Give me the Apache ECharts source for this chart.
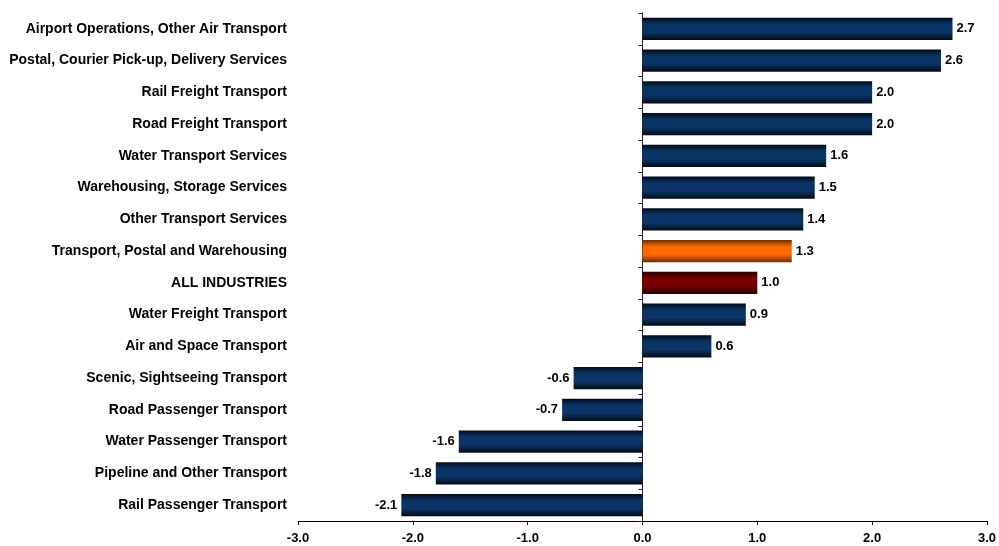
<!DOCTYPE html>
<html>
<head>
<meta charset="utf-8">
<script src="https://cdn.jsdelivr.net/npm/echarts@6/dist/echarts.min.js"></script>
<style>
  html, body { margin: 0; padding: 0; background: #fff; }
  #chart { width: 999px; height: 546px; }
</style>
</head>
<body>
<div id="chart"></div>
<script>
// Industry names, top to bottom
const categories = [
  'Airport Operations, Other Air Transport',
  'Postal, Courier Pick-up, Delivery Services',
  'Rail Freight Transport',
  'Road Freight Transport',
  'Water Transport Services',
  'Warehousing, Storage Services',
  'Other Transport Services',
  'Transport, Postal and Warehousing',
  'ALL INDUSTRIES',
  'Water Freight Transport',
  'Air and Space Transport',
  'Scenic, Sightseeing Transport',
  'Road Passenger Transport',
  'Water Passenger Transport',
  'Pipeline and Other Transport',
  'Rail Passenger Transport'
];
const values = [2.7, 2.6, 2.0, 2.0, 1.6, 1.5, 1.4, 1.3, 1.0, 0.9, 0.6, -0.6, -0.7, -1.6, -1.8, -2.1];
const highlightDivision = 'Transport, Postal and Warehousing';
const highlightAll = 'ALL INDUSTRIES';

const FONT = 'Liberation Sans, Arial, sans-serif';

function bandGradient(edge, mid) {
  return new echarts.graphic.LinearGradient(0, 0, 0, 1, [
    { offset: 0, color: edge },
    { offset: 0.3, color: mid },
    { offset: 0.65, color: mid },
    { offset: 1, color: edge }
  ]);
}

const navy = bandGradient('#020a18', '#0b3566');
const orange = bandGradient('#6e2e00', '#ff6a00');
const maroon = bandGradient('#250000', '#7a0000');

const barData = categories.map((name, i) => {
  let color = navy;
  if (name === highlightDivision) color = orange;
  else if (name === highlightAll) color = maroon;
  return {
    value: values[i],
    itemStyle: { color },
    label: { position: values[i] >= 0 ? 'right' : 'left' }
  };
});

const chart = echarts.init(document.getElementById('chart'), null, { renderer: 'canvas' });
chart.setOption({
  animation: false,
  backgroundColor: '#ffffff',
  grid: { left: 298, right: 11, top: 13, bottom: 25, containLabel: false },
  xAxis: {
    type: 'value',
    min: -3,
    max: 3,
    interval: 1,
    splitLine: { show: false },
    axisLine: { show: true, lineStyle: { color: '#000', width: 1 } },
    axisTick: { show: true, length: 4, lineStyle: { color: '#000' } },
    axisLabel: {
      color: '#000',
      fontFamily: FONT,
      fontWeight: 'bold',
      fontSize: 13,
      margin: 11,
      formatter: v => v.toFixed(1)
    }
  },
  yAxis: [
    {
      // axis line drawn through zero, with ticks between categories
      type: 'category',
      data: categories,
      inverse: true,
      axisLine: { show: true, onZero: true, lineStyle: { color: '#222', width: 1 } },
      axisTick: { show: true, length: 4, lineStyle: { color: '#222' } },
      axisLabel: { show: false },
      splitLine: { show: false }
    },
    {
      // category names along the left edge
      type: 'category',
      data: categories,
      inverse: true,
      position: 'left',
      axisLine: { show: false, onZero: false },
      axisTick: { show: false },
      axisLabel: {
        color: '#000',
        fontFamily: FONT,
        fontWeight: 'bold',
        fontSize: 14,
        margin: 11
      },
      splitLine: { show: false }
    }
  ],
  series: [{
    type: 'bar',
    yAxisIndex: 0,
    data: barData,
    barCategoryGap: '30%',
    label: {
      show: true,
      color: '#000',
      fontFamily: FONT,
      fontWeight: 'bold',
      fontSize: 13,
      distance: 4,
      formatter: p => p.value.toFixed(1)
    }
  }]
});
</script>
</body>
</html>
